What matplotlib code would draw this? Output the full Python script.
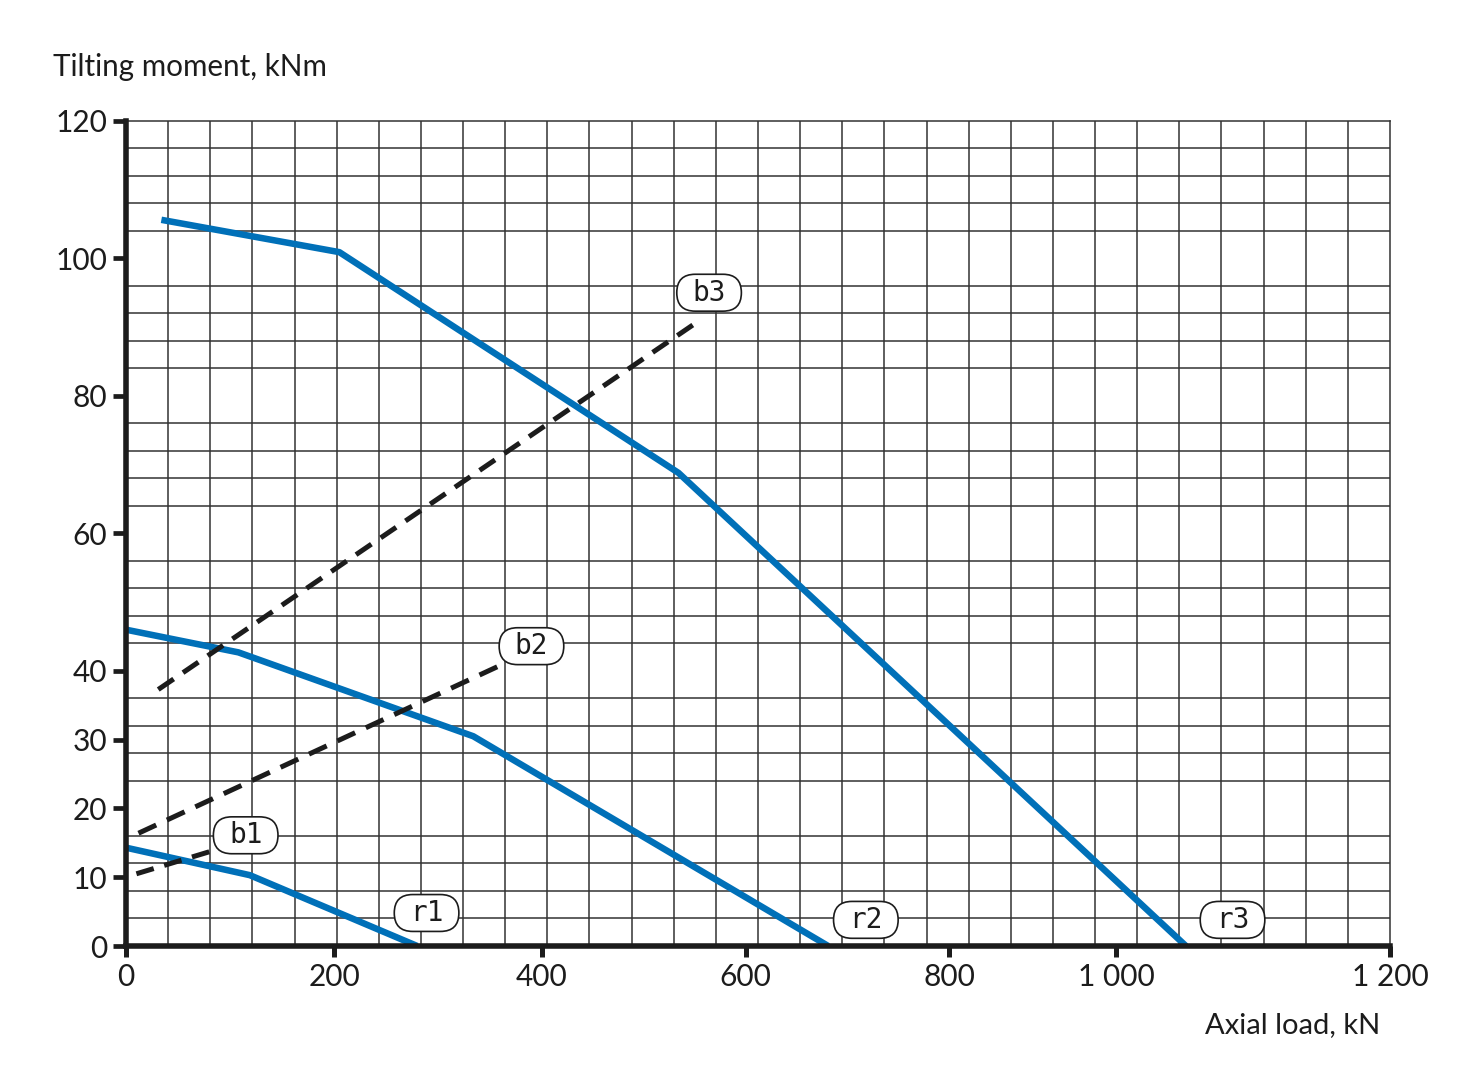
import numpy as np
import matplotlib
matplotlib.use("Agg")
import matplotlib.pyplot as plt
from matplotlib.patches import BoxStyle

# ---------------- data ----------------
x_ticks = [0, 200, 400, 600, 800, 1000, 1200]
x_tick_labels = ["0", "200", "400", "600", "800", "1 000", "1 200"]
y_ticks = [0, 10, 20, 30, 40, 60, 80, 100, 120]
y_tick_labels = ["0", "10", "20", "30", "40", "60", "80", "100", "120"]

# rating curves (solid blue)
r1_x = [0, 119, 280]
r1_y = [14.3, 10.3, 0]
r2_x = [0, 108, 334, 681]
r2_y = [46.0, 42.7, 30.5, 0]
r3_x = [34, 205, 534, 1051]
r3_y = [105.6, 100.9, 68.8, 0]

# bolt curves (dashed black)
b1_x = [10, 80]
b1_y = [10.5, 13.7]
b2_x = [12, 357]
b2_y = [16.4, 40.6]
b3_x = [31, 548]
b3_y = [37.3, 90.3]

curve_names = ["r1", "r2", "r3", "b1", "b2", "b3"]
name_x = [289, 718, 1085, 115, 390, 564]
name_y = [4.8, 3.8, 3.8, 16.1, 43.6, 95.0]

# ---------------- axis scale (printed chart's tick spacing) ----------------
n_cells = 30
x_tick_cells = [0, 4.94, 9.87, 14.71, 19.54, 23.5, 30]


def _pw(v, xp, fp):
    v = np.asarray(v, dtype=float)
    out = np.interp(v, xp, fp)
    s0 = (fp[1] - fp[0]) / (xp[1] - xp[0])
    s1 = (fp[-1] - fp[-2]) / (xp[-1] - xp[-2])
    out = np.where(v < xp[0], fp[0] + (v - xp[0]) * s0, out)
    out = np.where(v > xp[-1], fp[-1] + (v - xp[-1]) * s1, out)
    return out


def fwd(v):
    return _pw(v, x_ticks, x_tick_cells)


def inv(c):
    return _pw(c, x_tick_cells, x_ticks)


def pill(x0, y0, width, height, mutation_size):
    hp = 0.56 * mutation_size
    vp = 0.16 * mutation_size
    h = height + 2 * vp
    rs = (h / 2.0) / mutation_size
    return BoxStyle.Round(pad=0, rounding_size=rs)(
        x0 - hp, y0 - vp, width + 2 * hp, h, mutation_size)


W, H = 1478, 1090
DPI = 100
fig = plt.figure(figsize=(W / DPI, H / DPI), dpi=DPI)
fig.patch.set_facecolor("white")
ax = fig.add_axes([126 / W, 1 - 946 / H, (1390 - 126) / W, (946 - 120.8) / H])

ax.set_xscale("function", functions=(fwd, inv))
ax.set_xlim(0, 1200)
ax.set_ylim(0, 120)

INK = "#1c1c1c"
GRID = "#333333"
BLUE = "#0070b8"
tick_font = dict(family=["Lato", "DejaVu Sans"], weight="normal")

# grid
ax.set_xticks(inv(np.arange(0, n_cells + 1)), minor=True)
ax.set_yticks(np.arange(0, 121, 4), minor=True)
ax.grid(which="minor", color=GRID, lw=1.1)
ax.grid(which="major", visible=False)
ax.tick_params(which="minor", length=0)
ax.set_axisbelow(True)

ax.set_xticks(x_ticks)
ax.set_xticklabels(x_tick_labels, fontdict=tick_font)
ax.set_yticks(y_ticks)
ax.set_yticklabels(y_tick_labels, fontdict=tick_font)
ax.tick_params(axis="x", which="major", direction="out", length=8, width=3.6,
               color=INK, labelsize=21.5, labelcolor=INK, pad=4)
ax.tick_params(axis="y", which="major", direction="out", length=9.5, width=3.4,
               color=INK, labelsize=21.5, labelcolor=INK, pad=4)

for s in ["left", "bottom"]:
    ax.spines[s].set_linewidth(4.0)
    ax.spines[s].set_color(INK)
    ax.spines[s].set_zorder(6)
for s in ["top", "right"]:
    ax.spines[s].set_linewidth(1.1)
    ax.spines[s].set_color(GRID)

# curves
for xs, ys in [(r1_x, r1_y), (r2_x, r2_y), (r3_x, r3_y)]:
    ax.plot(xs, ys, color=BLUE, lw=4.7, solid_capstyle="butt",
            solid_joinstyle="round", zorder=4)

DASH_LW = 3.6
DASH_PX, GAP_PX = 19.0, 11.5
for xs, ys in [(b1_x, b1_y), (b2_x, b2_y), (b3_x, b3_y)]:
    # fit the dash pattern so both ends finish with a full dash
    pts = ax.transData.transform(np.column_stack([xs, ys]))
    L = float(np.hypot(*(pts[-1] - pts[0])))
    n = max(1, int(round((L - DASH_PX) / (DASH_PX + GAP_PX))))
    s = L / (n * (DASH_PX + GAP_PX) + DASH_PX)
    unit = DASH_LW * DPI / 72.0
    ax.plot(xs, ys, color=INK, lw=DASH_LW,
            linestyle=(0, (DASH_PX * s / unit, GAP_PX * s / unit)),
            dash_capstyle="butt", zorder=4)

for name, lx, ly in zip(curve_names, name_x, name_y):
    ax.text(lx, ly, name, ha="center", va="center", fontsize=20,
            family=["DejaVu Sans Mono"], color=INK, zorder=7,
            bbox=dict(boxstyle=pill, fc="white", ec=INK, lw=1.2))

fig.text(53 / W, 1 - 76 / H, "Tilting moment, kNm", ha="left", va="baseline",
         fontsize=21.3, color=INK, **tick_font)
fig.text(1380 / W, 1 - 1033 / H, "Axial load, kN", ha="right", va="baseline",
         fontsize=21, color=INK, **tick_font)

fig.savefig("out.png", dpi=DPI, facecolor="white")
